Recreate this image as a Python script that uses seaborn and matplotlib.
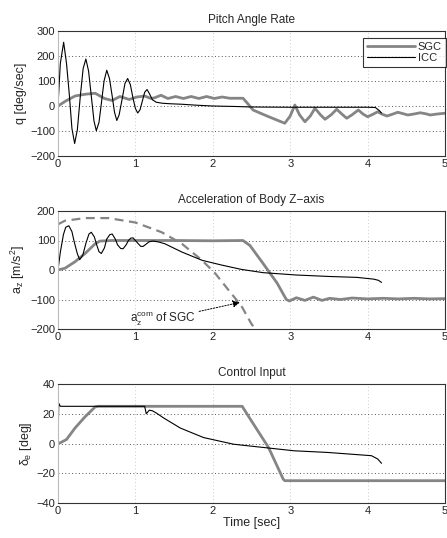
import numpy as np
import pandas as pd
import matplotlib
matplotlib.use("Agg")
import matplotlib.pyplot as plt
import seaborn as sns

# Pitch angle rate q [deg/sec]
q_sgc_t = [0, 0.1, 0.22, 0.35, 0.48, 0.6, 0.7, 0.8, 0.92, 1.02, 1.12, 1.2, 1.25, 1.33, 1.42,
           1.52, 1.62, 1.72, 1.82, 1.92, 2.02, 2.12, 2.22, 2.39, 2.45, 2.52, 2.7, 2.93, 3.0,
           3.06, 3.12, 3.19, 3.26, 3.32, 3.39, 3.45, 3.53, 3.6, 3.67, 3.73, 3.8, 3.88, 3.94,
           4.0, 4.07, 4.13, 4.19, 4.25, 4.32, 4.39, 4.45, 4.52, 4.6, 4.68, 4.75, 4.81, 4.9, 5.0]
q_sgc = [0, 20, 40, 47, 51, 30, 22, 38, 26, 36, 40, 30, 33, 43, 30,
         38, 30, 38, 30, 38, 30, 36, 31, 31, 10, -16, -40, -69, -40,
         4, -35, -63, -40, -9, -35, -53, -35, -13, -33, -49, -35, -16, -32,
         -43, -33, -23, -33, -40, -33, -25, -30, -36, -32, -27, -31, -36, -32, -29]

q_icc_t = [0, 0.03, 0.073, 0.11, 0.145, 0.18, 0.215, 0.25, 0.29, 0.325, 0.36, 0.395, 0.43,
           0.465, 0.495, 0.53, 0.56, 0.595, 0.63, 0.665, 0.70, 0.73, 0.76, 0.79, 0.83, 0.865,
           0.90, 0.935, 0.97, 1.0, 1.03, 1.06, 1.09, 1.12, 1.15, 1.18, 1.22, 1.27, 1.35, 1.45,
           1.6, 1.8, 2.0, 2.3, 2.5, 3.0, 3.5, 4.0, 4.1, 4.15, 4.18]
q_icc = [0, 170, 255, 170, 50, -90, -150, -95, 45, 150, 188, 140, 40,
         -60, -99, -65, 10, 100, 143, 110, 40, -25, -58, -35, 30, 90,
         110, 85, 30, -10, -28, -15, 20, 55, 66, 50, 25, 15, 11, 9,
         7, 3, 0, -2, -4, -5, -5, -5, -6, -18, -28]

# Acceleration of body z-axis a_z [m/s^2]
az_sgc_t = [0, 0.09, 0.22, 0.35, 0.48, 0.54, 0.7, 1.0, 1.5, 2.0, 2.39, 2.48, 2.65, 2.83,
            2.95, 2.99, 3.08, 3.19, 3.3, 3.41, 3.51, 3.65, 3.8, 4.0, 4.2, 4.4, 4.6, 4.8, 5.0]
az_sgc = [0, 6, 28, 56, 89, 98, 100, 100, 100, 99, 100, 83, 22, -44,
          -100, -105, -94, -103, -92, -103, -96, -100, -95, -98, -96, -98, -96, -98, -97]

az_icc_t = [0, 0.03, 0.07, 0.1, 0.14, 0.18, 0.21, 0.25, 0.28, 0.32, 0.36, 0.4, 0.43, 0.47,
            0.5, 0.53, 0.56, 0.6, 0.63, 0.67, 0.7, 0.74, 0.77, 0.81, 0.84, 0.88, 0.91,
            0.94, 0.97, 1.0, 1.04, 1.07, 1.1, 1.14, 1.18, 1.23, 1.3, 1.38, 1.6, 1.86,
            2.11, 2.37, 2.65, 3.08, 3.51, 3.86, 4.08, 4.14, 4.18]
az_icc = [0, 60, 120, 145, 150, 130, 95, 55, 35, 50, 90, 122, 128, 112,
          85, 62, 56, 75, 105, 120, 122, 105, 85, 73, 72, 85, 100,
          108, 109, 100, 88, 80, 80, 88, 96, 98, 95, 89, 61, 33,
          17, 2, -9, -17, -22, -25, -31, -35, -42]

az_com_t = [0, 0.09, 0.35, 0.65, 1.0, 1.34, 1.6, 1.86, 2.03, 2.2, 2.37, 2.5, 2.56]
az_com = [155, 167, 176, 176, 161, 128, 89, 33, -11, -67, -122, -183, -205]

# Control input delta_e [deg]
de_sgc_t = [0, 0.03, 0.11, 0.22, 0.35, 0.48, 0.52, 1.0, 2.0, 2.38, 2.44, 2.72, 2.91, 2.93, 4.0, 5.0]
de_sgc = [0, 0.5, 2.7, 10.4, 18, 24.6, 25, 25, 25, 25, 20, -2.7, -24, -25, -25, -25]

de_icc_t = [0, 0.01, 0.03, 0.5, 1.0, 1.12, 1.14, 1.18, 1.22, 1.27, 1.37, 1.58, 1.88,
            2.27, 2.66, 3.05, 3.48, 3.87, 4.05, 4.13, 4.18]
de_icc = [2, 27, 25, 25, 25, 25, 20, 22.4, 22, 20.5, 17, 10.4, 4,
          -0.5, -2.7, -4.9, -6, -7.5, -8.2, -10.4, -13.3]

sns.set_style("white")
plt.rcParams["font.family"] = ["Liberation Sans", "DejaVu Sans"]
plt.rcParams["mathtext.fontset"] = "custom"
plt.rcParams["mathtext.rm"] = "Liberation Sans"
plt.rcParams["mathtext.it"] = "Liberation Sans"

GRAY = "#858585"
fig = plt.figure(figsize=(4.47, 5.38), dpi=100)
W, H = 447, 538
x0, x1 = 58, 445


def make_ax(top, bottom):
    return fig.add_axes([x0 / W, 1 - bottom / H, (x1 - x0) / W, (bottom - top) / H])


def style(ax, title, ylabel, yticks):
    ax.set_xlim(0, 5)
    ax.set_ylim(yticks[0], yticks[-1])
    ax.set_xticks(range(6))
    ax.set_yticks(yticks)
    ax.tick_params(labelsize=8, length=2, direction="in", pad=2, colors="#222222")
    ax.xaxis.grid(True, linestyle=(0, (1, 2.5)), color="#cccccc", linewidth=0.7)
    ax.yaxis.grid(True, linestyle=(0, (1, 2.5)), color="#555555", linewidth=0.7)
    for s in ax.spines.values():
        s.set_color("#333333")
        s.set_linewidth(0.8)
    ax.spines["left"].set_color("#bbbbbb")
    ax.set_title(title, fontsize=8.5, pad=6)
    ax.set_ylabel(ylabel, fontsize=9, labelpad=2)
    ax.set_xlabel("")


def line(ax, t, v, **kw):
    df = pd.DataFrame({"t": t, "v": v})
    sns.lineplot(data=df, x="t", y="v", ax=ax, estimator=None, sort=False, **kw)


# Pitch angle rate
ax1 = make_ax(31, 156)
line(ax1, q_sgc_t, q_sgc, color=GRAY, linewidth=2.0, label="SGC")
line(ax1, q_icc_t, q_icc, color="black", linewidth=0.8, label="ICC")
style(ax1, "Pitch Angle Rate", "q [deg/sec]", [-200, -100, 0, 100, 200, 300])
leg = ax1.legend(loc="upper left", bbox_to_anchor=(0.788, 0.945), fontsize=8,
                 frameon=True, fancybox=False, handlelength=4.3, borderpad=0.35,
                 labelspacing=0.1, handletextpad=0.3, borderaxespad=0)
leg.get_frame().set_edgecolor("black")
leg.get_frame().set_linewidth(0.8)

# Acceleration
ax2 = make_ax(211, 329)
line(ax2, az_com_t, az_com, color=GRAY, linewidth=1.6, linestyle=(0, (4, 2.5)))
line(ax2, az_sgc_t, az_sgc, color=GRAY, linewidth=2.0)
line(ax2, az_icc_t, az_icc, color="black", linewidth=0.8)
style(ax2, "Acceleration of Body Z\u2212axis", "a$_z$ [m/s$^2$]", [-200, -100, 0, 100, 200])
ax2.annotate("a$_z^{com}$ of SGC", xy=(2.35, -110), xytext=(0.93, -178),
             fontsize=8.5, ha="left", va="baseline",
             arrowprops=dict(arrowstyle="-|>", color="black", lw=0.7,
                             linestyle=(0, (1.5, 1.5)), shrinkA=0, shrinkB=0,
                             mutation_scale=10))

# Control input
ax3 = make_ax(384, 503)
line(ax3, de_sgc_t, de_sgc, color=GRAY, linewidth=2.0)
line(ax3, de_icc_t, de_icc, color="black", linewidth=0.8)
style(ax3, "Control Input", "$\\delta_e$ [deg]", [-40, -20, 0, 20, 40])
ax3.set_xlabel("Time [sec]", fontsize=9, labelpad=1)

for ax in (ax2, ax3):
    if ax.get_legend() is not None:
        ax.get_legend().remove()

fig.savefig("out.png", dpi=100)
